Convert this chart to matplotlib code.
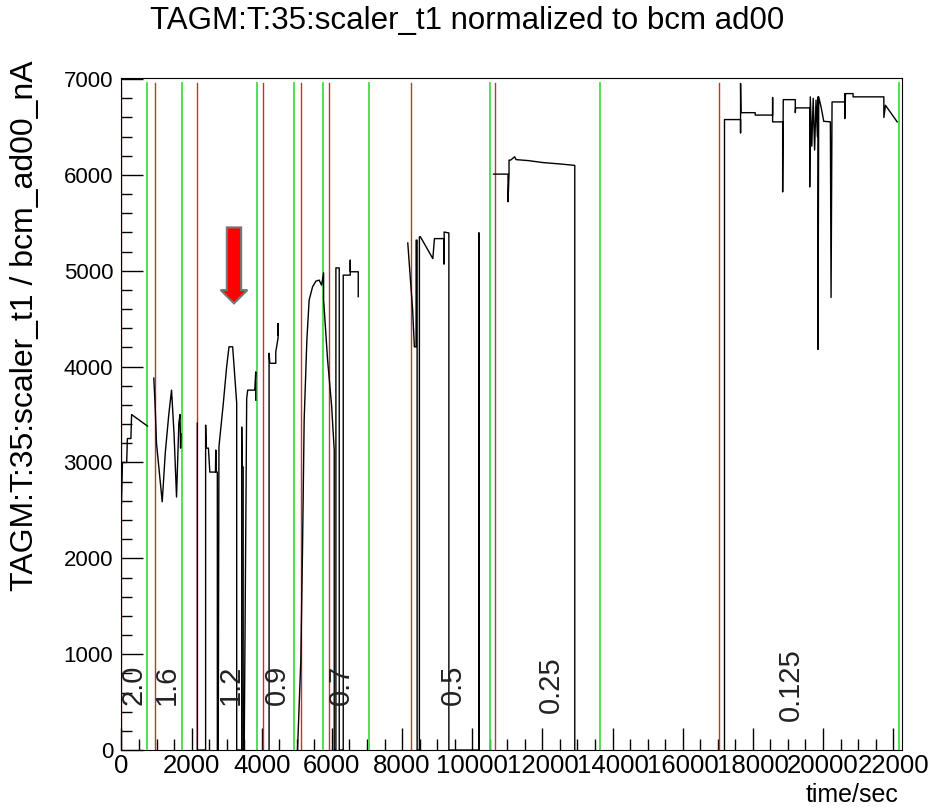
import numpy as np
import matplotlib
matplotlib.use("Agg")
import matplotlib.pyplot as plt
from matplotlib.ticker import MultipleLocator

plt.rcParams['font.family'] = ['Liberation Sans', 'DejaVu Sans']

# --- datos (tiempo en s, valor normalizado) ---
t_run1 = [0, 30, 150, 170, 270, 290, 743]
v_run1 = [2570, 3000, 3000, 3250, 3250, 3500, 3380]

t_run2 = [923, 960, 1000, 1163, 1250, 1350, 1429, 1500, 1571, 1637, 1670, 1686, 1700]
v_run2 = [3880, 3600, 3200, 2590, 3100, 3500, 3755, 3300, 2640, 3410, 3500, 3150, 3300]

t_run3 = [2163, 2163, 2400, 2400, 2420, 2480, 2520, 2680, 2690, 2700, 2734, 2734, 2760,
          2780, 2900, 3000, 3066, 3171, 3286, 3286, 3429, 3429, 3440, 3471, 3471, 3500,
          3571, 3600, 3800, 3829, 3829]
v_run3 = [3410, 0, 0, 3390, 3150, 3150, 2900, 2900, 3130, 2900, 2900, 0, 0,
          3165, 3600, 4000, 4207, 4207, 3620, 0, 0, 3370, 2955, 2955, 0, 0,
          3670, 3755, 3755, 3945, 3650]

t_run4 = [4209, 4209, 4230, 4400, 4400, 4466, 4466, 4466]
v_run4 = [0, 4140, 4035, 4035, 4155, 4300, 4450, 4330]

t_run5 = [5020, 5114, 5163, 5209, 5286, 5351, 5449, 5543, 5637, 5706, 5763, 5763, 5877,
          5990, 6066, 6066, 6114, 6114, 6209, 6209, 6323, 6323, 6523, 6523, 6523, 6751, 6751]
v_run5 = [0, 940, 2120, 3440, 4277, 4695, 4833, 4892, 4903, 4850, 4980, 4700, 4070,
          3600, 3130, 0, 0, 5030, 5030, 0, 0, 4955, 4955, 5110, 4990, 4990, 4730]

t_run6 = [8163, 8220, 8300, 8351, 8400, 8400, 8429, 8429, 8494, 8494, 8523, 8877, 8923,
          9191, 9191, 9200, 9200, 9334, 9334, 10191, 10191, 10191]
v_run6 = [5290, 5000, 4600, 4207, 4207, 5320, 5320, 0, 0, 5355, 5355, 5127, 5336,
          5336, 5070, 5070, 5405, 5395, 0, 0, 5395, 0]

t_run7 = [10609, 11020, 11020, 11049, 11049, 11094, 11209, 11250, 11600, 12000, 12500, 12923, 12923]
v_run7 = [6009, 6009, 5720, 6009, 6155, 6155, 6190, 6160, 6150, 6130, 6115, 6100, 0]

t_run8 = [17191, 17191, 17649, 17649, 17649, 17660, 18066, 18066, 18563, 18563, 18563,
          18849, 18849, 18866, 19209, 19209, 19220, 19620, 19620, 19637, 19680, 19720,
          19760, 19800, 19840, 19857, 19857, 19877, 19950, 20020, 20209, 20229, 20257,
          20620, 20620, 20620, 20640, 20857, 20857, 21734, 21734, 21780, 22114]
v_run8 = [0, 6578, 6578, 6440, 6955, 6650, 6650, 6625, 6625, 6808, 6554,
          6554, 5823, 6786, 6786, 6650, 6700, 6700, 5875, 6815, 6300, 6800,
          6260, 6780, 6400, 6815, 4180, 6815, 6700, 6560, 6554, 4722, 6762,
          6762, 6849, 6588, 6849, 6849, 6815, 6815, 6600, 6727, 6554]

runs_t = [t_run1, t_run2, t_run3, t_run4, t_run5, t_run6, t_run7, t_run8]
runs_v = [v_run1, v_run2, v_run3, v_run4, v_run5, v_run6, v_run7, v_run8]

# inicio (rojo) y fin (verde) de cada corriente
t_inicio = [0, 971, 2143, 4029, 5114, 5914, 8257, 10657, 17029]
t_fin = [743, 1714, 3857, 4914, 5743, 7057, 10514, 13629, 22171]
y_lineas = 6955

# etiquetas de corriente
etiquetas = ["2.0", "1.6", "1.2", "0.9", "0.7", "0.5", "0.25", "0.125"]
t_etiquetas = [343, 1286, 3114, 4429, 6257, 9457, 12229, 19086]
y_etiquetas = 680

fig = plt.figure(figsize=(9.34, 8.11), dpi=100)
ax = fig.add_axes([0.130, 0.0752, 0.8357, 0.829])

for tt in t_inicio:
    ax.plot([tt, tt], [0, y_lineas], color="#d42a2a", lw=1.0, zorder=2)
for tt in t_fin:
    ax.plot([tt, tt], [0, y_lineas], color="#44dd44", lw=1.3, zorder=2)

for tt, vv in zip(runs_t, runs_v):
    ax.plot(tt, vv, color="black", lw=1.0, zorder=3)

for txt, tt in zip(etiquetas, t_etiquetas):
    ax.text(tt, y_etiquetas, txt, rotation=90, ha="center", va="center",
            fontsize=21, color="#222222", zorder=4)

# flecha roja
ax.arrow(3209, 5453, 0, -793, width=408, head_width=762, head_length=139,
         length_includes_head=True, fc="red", ec="#777777", lw=1.5, zorder=5)

ax.set_xlim(0, 22250)
ax.set_ylim(0, 7015)
ax.xaxis.set_major_locator(MultipleLocator(2000))
ax.xaxis.set_minor_locator(MultipleLocator(500))
ax.yaxis.set_major_locator(MultipleLocator(1000))
ax.yaxis.set_minor_locator(MultipleLocator(200))
ax.tick_params(which="both", direction="in", top=False, right=False)
ax.tick_params(which="major", length=16, width=1)
ax.tick_params(which="minor", length=8, width=1)
ax.tick_params(axis="x", labelsize=18.5, pad=3)
ax.tick_params(axis="y", labelsize=16, pad=6)

fig.text(0.5, 1 - 21 / 811, "TAGM:T:35:scaler_t1 normalized to bcm ad00",
         ha="center", va="center", fontsize=22.5)
fig.text(25 / 934, 1 - 60 / 811, "TAGM:T:35:scaler_t1 / bcm_ad00_nA",
         rotation=90, ha="center", va="top", fontsize=23)
fig.text(898 / 934, 1 - 795 / 811, "time/sec", ha="right", va="center", fontsize=18)

fig.savefig("out.png", dpi=100)
